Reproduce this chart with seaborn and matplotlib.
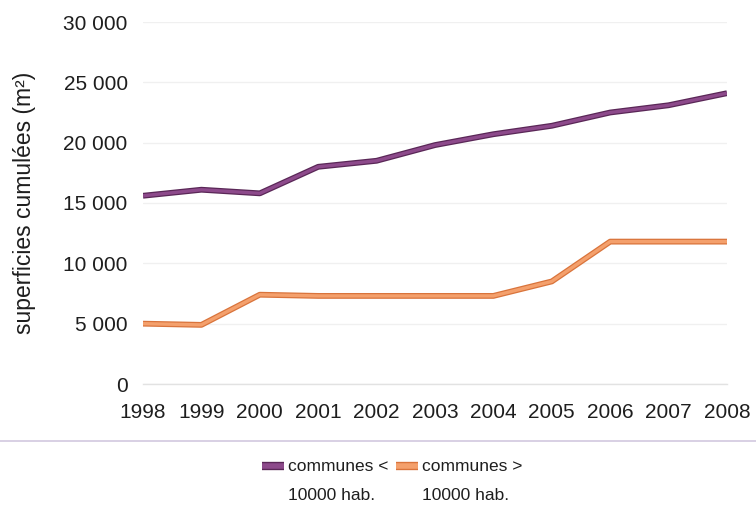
import matplotlib
matplotlib.use("Agg")
import matplotlib.pyplot as plt
import matplotlib.patheffects as pe
from matplotlib.ticker import FuncFormatter, MultipleLocator
from matplotlib.lines import Line2D
import seaborn as sns
import pandas as pd

years = [1998, 1999, 2000, 2001, 2002, 2003, 2004, 2005, 2006, 2007, 2008]
small_communes = [15600, 16100, 15800, 18000, 18500, 19800, 20700, 21400, 22500, 23100, 24100]
large_communes = [5000, 4900, 7400, 7300, 7300, 7300, 7300, 8500, 11800, 11800, 11800]
series_names = ["communes <\n10000 hab.", "communes >\n10000 hab."]
colors = ["#8d4a8b", "#f4a06c"]
edge_colors = ["#5a2757", "#d9743c"]

df = pd.DataFrame({
    "année": years * 2,
    "surface": small_communes + large_communes,
    "série": [series_names[0]] * len(years) + [series_names[1]] * len(years),
})

sns.set_theme(style="white")
plt.rcParams["font.family"] = ["Liberation Sans", "DejaVu Sans"]

W, H = 756, 509
fig = plt.figure(figsize=(W / 100, H / 100), dpi=100)
ax = fig.add_axes([143 / W, 1 - 384 / H, (727 - 143) / W, (384 - 22) / H])

sns.lineplot(data=df, x="année", y="surface", hue="série",
             palette=dict(zip(series_names, colors)), linewidth=2.4,
             legend=False, ax=ax)

for line, ec in zip(ax.get_lines(), edge_colors):
    line.set_path_effects([pe.Stroke(linewidth=4.2, foreground=ec),
                           pe.Normal()])
    line.set_solid_capstyle("butt")
    line.set_solid_joinstyle("round")

ax.set_xlim(1998, 2008)
ax.set_ylim(0, 30000)
ax.set_xticks(years)
ax.yaxis.set_major_locator(MultipleLocator(5000))
ax.yaxis.set_major_formatter(FuncFormatter(lambda v, p: f"{int(v):,}".replace(",", " ")))
ax.grid(axis="y", color="#f0f0f0", linewidth=1.0)
ax.set_axisbelow(True)
for s in ["top", "right", "left"]:
    ax.spines[s].set_visible(False)
ax.spines["bottom"].set_color("#e2e2e2")
ax.spines["bottom"].set_linewidth(1.0)
ax.tick_params(axis="both", labelsize=15, colors="#1e1e1e", length=0)
ax.tick_params(axis="x", pad=14)
ax.tick_params(axis="y", pad=11)
ax.set_xlabel("")
ax.set_ylabel("superficies cumulées (m²)", fontsize=16.5, color="#1e1e1e", labelpad=20)

# separator between plot area and legend
fig.add_artist(Line2D([0, 1], [1 - 441 / H, 1 - 441 / H],
                      color="#d6cde2", linewidth=1.3, transform=fig.transFigure))

# legend: short outlined stroke followed by a two-line label
legend_x = [262, 396]
for x0, name, c, ec in zip(legend_x, series_names, colors, edge_colors):
    fig.add_artist(Line2D([x0 / W, (x0 + 22) / W], [1 - 466 / H, 1 - 466 / H],
                          color=c, linewidth=4.0, solid_capstyle="butt",
                          path_effects=[pe.Stroke(linewidth=6.0, foreground=ec), pe.Normal()],
                          transform=fig.transFigure))
    fig.text((x0 + 26) / W, 1 - 459 / H, name, fontsize=12.5, color="#1e1e1e",
             ha="left", va="top", linespacing=2.2)

fig.savefig("out.png", dpi=100)
